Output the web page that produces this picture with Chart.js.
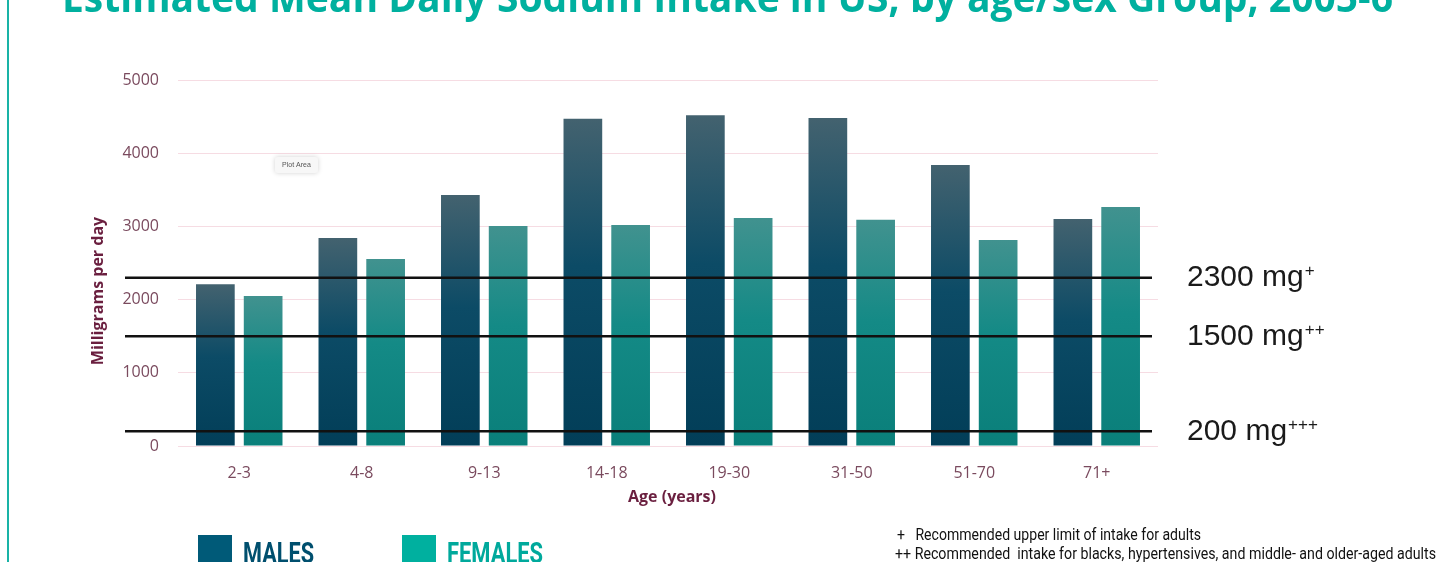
<!DOCTYPE html>
<html>
<head>
<meta charset="utf-8">
<script src="https://cdn.jsdelivr.net/npm/chart.js@4.4.1/dist/chart.umd.min.js"></script>
<style>
  html, body { margin: 0; padding: 0; background: #ffffff; }
  #wrap { position: relative; width: 1446px; height: 562px; overflow: hidden; }
</style>
</head>
<body>
<div id="wrap"><canvas id="c"></canvas></div>
<script>
// Age groups and mean daily sodium intake (mg/day)
const ageGroups = ['2-3', '4-8', '9-13', '14-18', '19-30', '31-50', '51-70', '71+'];
const males   = [2210, 2840, 3430, 4470, 4520, 4480, 3840, 3100];
const females = [2050, 2555, 3005, 3020, 3115, 3090, 2815, 3265];

// Recommended intake reference lines
const refValues = [2300, 1500, 200];
const refLabels = ['2300 mg', '1500 mg', '200 mg'];
const refMarks  = ['+', '++', '+++'];

const yTicks = [0, 1000, 2000, 3000, 4000, 5000];

const titleText = 'Estimated Mean Daily Sodium Intake in US, by age/sex Group, 2005-6';
const footnotes = [
  '+   Recommended upper limit of intake for adults',
  '++ Recommended  intake for blacks, hypertensives, and middle- and older-aged adults'
];

const TEAL = '#00b09f';
const TICK_COLOR = '#7a4a5e';
const AXIS_TITLE_COLOR = '#6a1f3f';

// vertical gradient per bar: lighter at the top, deep at the base
function barGradient(top, bottom) {
  return function (ctx) {
    const chart = ctx.chart;
    const sy = chart.scales && chart.scales.y;
    if (!chart.chartArea || !sy) return bottom[1];
    const yTop = sy.getPixelForValue(ctx.raw);
    const yBase = sy.getPixelForValue(0);
    const g = chart.ctx.createLinearGradient(0, yTop, 0, yBase);
    g.addColorStop(0, top);
    g.addColorStop(0.45, bottom[0]);
    g.addColorStop(1, bottom[1]);
    return g;
  };
}

// draws text squeezed horizontally to an exact width
function fitText(ctx, text, x, y, width) {
  const w = ctx.measureText(text).width;
  ctx.save();
  ctx.translate(x, y);
  ctx.scale(width / w, 1);
  ctx.fillText(text, 0, 0);
  ctx.restore();
}

const decorations = {
  id: 'decorations',
  afterDraw(chart) {
    const ctx = chart.ctx;
    const sy = chart.scales.y;
    const area = chart.chartArea;
    ctx.save();

    // slide frame rule on the left
    ctx.fillStyle = '#19b3a6';
    ctx.fillRect(7, 0, 2, 562);

    // slide title
    ctx.fillStyle = TEAL;
    ctx.font = '700 41px "Open Sans", sans-serif';
    ctx.textBaseline = 'alphabetic';
    ctx.textAlign = 'left';
    fitText(ctx, titleText, 62, 12, 1331);

    // axis titles
    ctx.fillStyle = AXIS_TITLE_COLOR;
    ctx.font = 'bold 16px "Open Sans", sans-serif';
    ctx.textAlign = 'center';
    ctx.textBaseline = 'middle';
    ctx.fillText('Age (years)', (area.left + area.right) / 2 + 4, 497);
    ctx.save();
    ctx.translate(98, 291);
    ctx.rotate(-Math.PI / 2);
    ctx.fillText('Milligrams per day', 0, 0);
    ctx.restore();

    // reference lines with labels
    refValues.forEach((v, i) => {
      const y = sy.getPixelForValue(v);
      ctx.strokeStyle = '#111111';
      ctx.lineWidth = 2.5;
      ctx.beginPath();
      ctx.moveTo(125, y);
      ctx.lineTo(1152, y);
      ctx.stroke();

      ctx.fillStyle = '#1a1a1a';
      ctx.textAlign = 'left';
      ctx.textBaseline = 'alphabetic';
      ctx.font = '30px "Liberation Sans", Arial, sans-serif';
      const base = y - 2 + 10.7;
      ctx.fillText(refLabels[i], 1187, base);
      const w = ctx.measureText(refLabels[i]).width;
      ctx.font = '17px "Liberation Sans", Arial, sans-serif';
      ctx.fillText(refMarks[i], 1187 + w + 1, base - 10);
    });

    // small "Plot Area" tag
    ctx.save();
    ctx.shadowColor = 'rgba(0,0,0,0.18)';
    ctx.shadowBlur = 5;
    ctx.fillStyle = '#f7f7f7';
    ctx.beginPath();
    ctx.roundRect(275, 157, 43, 16, 3);
    ctx.fill();
    ctx.restore();
    ctx.fillStyle = '#555555';
    ctx.font = '7px "Liberation Sans", Arial, sans-serif';
    ctx.textAlign = 'center';
    ctx.textBaseline = 'middle';
    ctx.fillText('Plot Area', 296.5, 165.5);

    // legend
    ctx.fillStyle = '#005a78';
    ctx.fillRect(198, 535, 34, 30);
    ctx.fillStyle = '#00b09f';
    ctx.fillRect(402, 535, 34, 30);
    ctx.font = 'bold 29px Roboto, sans-serif';
    ctx.textAlign = 'left';
    ctx.textBaseline = 'alphabetic';
    ctx.fillStyle = '#004f6e';
    fitText(ctx, 'MALES', 243, 563, 71);
    ctx.fillStyle = '#00a99c';
    fitText(ctx, 'FEMALES', 447, 563, 96);

    // footnotes
    ctx.fillStyle = '#111111';
    ctx.font = '17px Roboto, sans-serif';
    fitText(ctx, footnotes[0], 897, 540, 304);
    fitText(ctx, footnotes[1], 895, 559, 541);

    ctx.restore();
  }
};

new Chart(document.getElementById('c'), {
  type: 'bar',
  data: {
    labels: ageGroups,
    datasets: [
      {
        label: 'MALES',
        data: males,
        backgroundColor: barGradient('#43626f', ['#0c4b66', '#023e58']),
        borderWidth: 0
      },
      {
        label: 'FEMALES',
        data: females,
        backgroundColor: barGradient('#41928f', ['#148a86', '#0a7f7a']),
        borderWidth: 0
      }
    ]
  },
  options: {
    responsive: true,
    maintainAspectRatio: false,
    animation: false,
    devicePixelRatio: 1,
    datasets: { bar: { categoryPercentage: 0.78, barPercentage: 0.81 } },
    layout: { padding: { left: 0, top: 80, right: 288, bottom: 0 } },
    plugins: {
      legend: { display: false },
      tooltip: { enabled: false },
      title: { display: false }
    },
    scales: {
      x: {
        grid: { display: false },
        border: { display: false },
        ticks: {
          color: TICK_COLOR,
          font: { family: '"Open Sans", sans-serif', size: 16, weight: '500' },
          padding: 10,
          maxRotation: 0
        },
        afterFit(s) { s.height = 116; }
      },
      y: {
        min: 0,
        max: 5000,
        grid: { color: '#f6dce3', lineWidth: 1, drawTicks: false },
        border: { display: false },
        afterBuildTicks(s) { s.ticks = yTicks.map(v => ({ value: v })); },
        ticks: {
          color: TICK_COLOR,
          font: { family: '"Open Sans", sans-serif', size: 16, weight: '500' },
          padding: 19,
          callback: v => String(v)
        },
        afterFit(s) { s.width = 178; }
      }
    }
  },
  plugins: [decorations]
});
</script>
</body>
</html>
